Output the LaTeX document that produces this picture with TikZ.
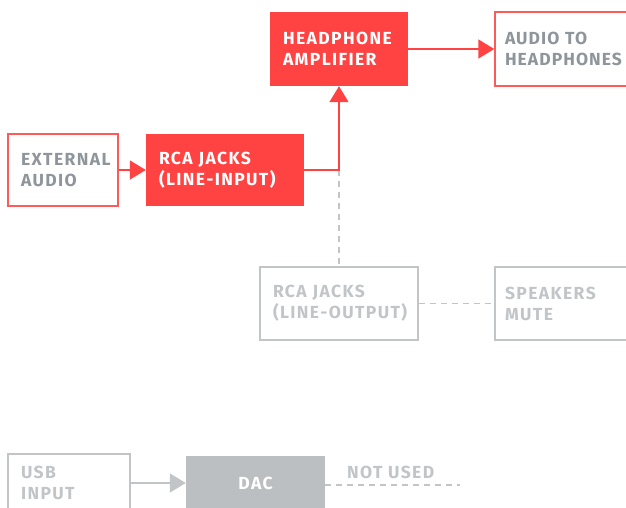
\documentclass[tikz,border=0pt]{standalone}
\usepackage{fontspec}
\setmainfont{Fira Sans}[LetterSpace=8]
\newfontfamily\tightfont{Fira Sans}[LetterSpace=6]
\usetikzlibrary{arrows.meta}
\definecolor{rd}{HTML}{FF4242}
\definecolor{rdl}{HTML}{FF5A5A}
\definecolor{tg}{HTML}{8E969C}
\definecolor{lg}{HTML}{C2C5C8}
\definecolor{dacg}{HTML}{BCBFC2}
\tikzset{
  x=1pt,y=-1pt,
  fnt/.style={font=\fontsize{17.5}{21}\selectfont\bfseries},
  box/.style={rectangle,minimum width=#1,text width=#1-26pt,inner xsep=13pt,inner ysep=0pt,minimum height=72pt,align=left,fnt},
  redfill/.style={fill=rd,text=white},
  redline/.style={draw=rdl,line width=1.5pt,text=tg},
  grayline/.style={draw=lg,line width=1.3pt,text=lg},
  conn/.style={draw=rd,line width=1.8pt,-{Triangle[length=16pt,width=19pt]}},
  gconn/.style={draw=lg,line width=1.5pt,-{Triangle[length=16pt,width=19pt]}},
  gdash/.style={draw=lg,line width=1.3pt,dash pattern=on 6pt off 5pt},
}
\begin{document}
\begin{tikzpicture}
\useasboundingbox (0,0) rectangle (626,508);
\begin{scope}
\clip (0,0) rectangle (626,508);
\node[box=110pt,redline] (ext) at (63,170) {\mbox{EXTERNAL}\\\mbox{AUDIO}};
\node[box=158pt,redfill] (rcain) at (225,170) {\mbox{RCA JACKS}\\\mbox{(LINE-INPUT)}};
\node[box=138pt,redfill,minimum height=74pt] (amp) at (339,49) {\mbox{HEADPHONE}\\\mbox{AMPLIFIER}};
\node[box=150pt,redline,minimum height=74pt,inner xsep=10pt,text width=130pt,font=\fontsize{17.5}{21}\selectfont\bfseries\tightfont] (hp) at (570,49) {\mbox{AUDIO TO}\\\mbox{HEADPHONES}};
\node[box=158pt,grayline,minimum height=73pt] (lineout) at (339,303.5) {\mbox{RCA JACKS}\\\mbox{(LINE-OUTPUT)}};
\node[box=150pt,grayline,minimum height=73pt,inner xsep=10pt,text width=130pt] (mute) at (570,303.5) {\mbox{SPEAKERS}\\\mbox{MUTE}};
\node[box=122pt,grayline,minimum height=58pt] (usb) at (69,483) {\mbox{USB}\\\mbox{INPUT}};
\node[rectangle,fill=dacg,text=white,minimum width=139pt,minimum height=54pt,fnt] (dac) at (255.5,483) {DAC};
\node[anchor=west,text=lg,inner sep=0pt,fnt] (nu) at (347,472) {NOT USED};
\coordinate (nuend) at (460,485);
\coordinate (j) at (amp.south |- rcain.east);
\draw[gdash] (j) -- (lineout.north);
\draw[conn] (ext.east) -- (rcain.west);
\draw[conn] (rcain.east) -- (j) -- (amp.south);
\draw[conn] (amp.east) -- (amp.east -| hp.west);
\draw[gdash] (lineout.east) -- (mute.west);
\draw[gconn] (usb.east) -- (usb.east -| dac.west);
\draw[gdash] (dac.east |- nuend) -- (nuend);
\end{scope}
\end{tikzpicture}
\end{document}
